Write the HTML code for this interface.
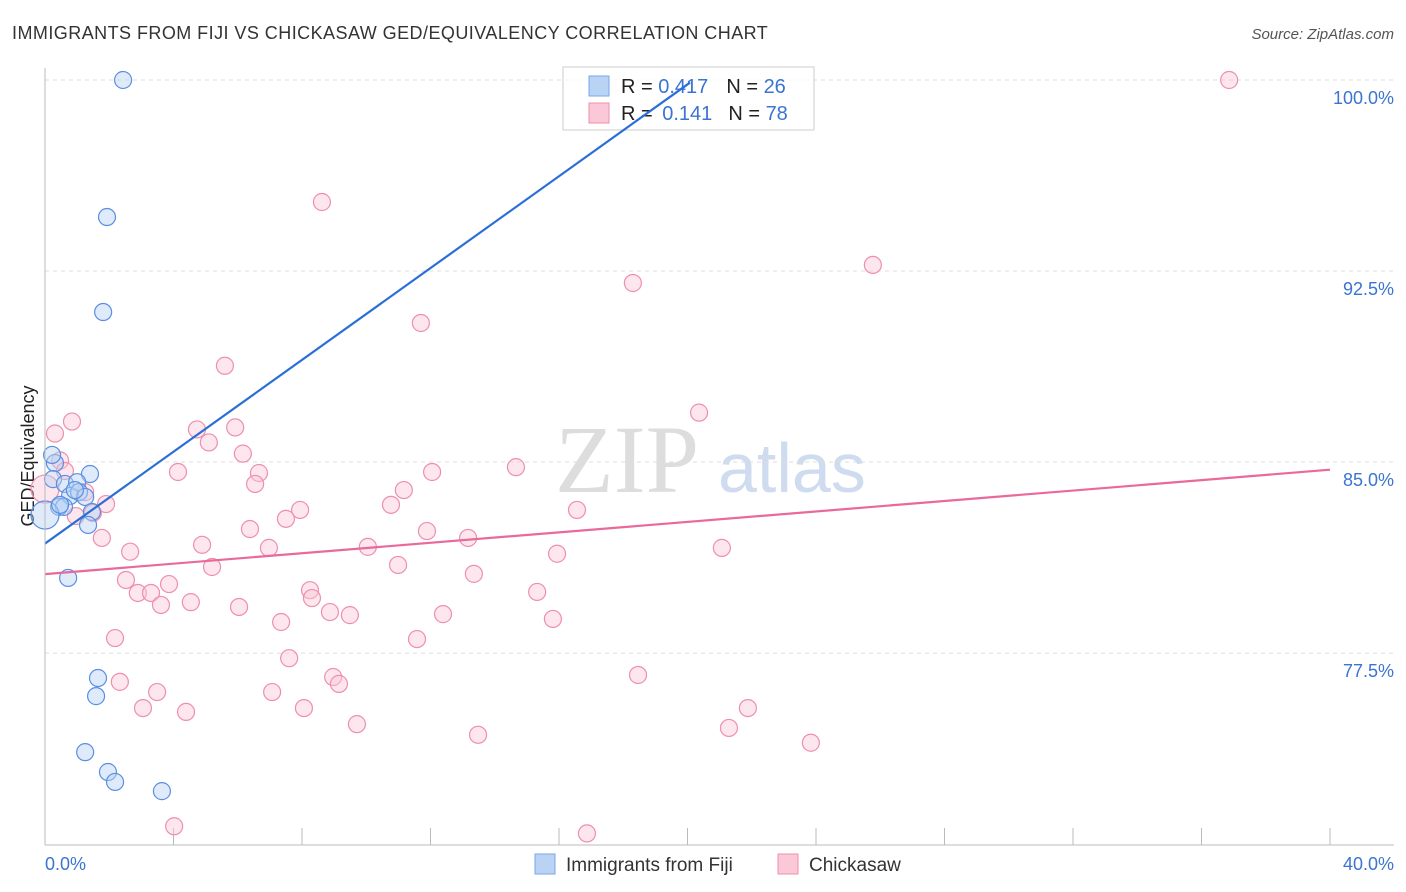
<!DOCTYPE html>
<html><head><meta charset="utf-8"><style>
body{margin:0;background:#fff;font-family:"Liberation Sans",sans-serif;}
#c{position:relative;width:1406px;height:892px;overflow:hidden}
</style></head><body>
<div id="c">
<svg id="s" width="1406" height="892" xmlns="http://www.w3.org/2000/svg">
<text x="12" y="39" font-size="18" fill="#333" letter-spacing="0.45">IMMIGRANTS FROM FIJI VS CHICKASAW GED/EQUIVALENCY CORRELATION CHART</text>
<text x="1394" y="39" font-size="15" fill="#555" font-style="italic" text-anchor="end">Source: ZipAtlas.com</text>
<text x="34" y="456" font-size="18" fill="#222" transform="rotate(-90 34 456)" text-anchor="middle">GED/Equivalency</text>
<text x="555" y="492" font-size="96" fill="#ddd" font-family="Liberation Serif,serif">ZIP</text>
<text x="718" y="492" font-size="70" fill="#cfdcf0">atlas</text>
<g id="grid"></g>
<g>
<rect x="563" y="67" width="251" height="63" fill="#fff" fill-opacity="0.75" stroke="#ccc"/>
<rect x="589" y="76" width="20" height="20" fill="#b9d3f5" stroke="#7aa6e6"/>
<rect x="589" y="103" width="20" height="20" fill="#fbc8d7" stroke="#ee8fae"/>
<text x="621" y="93" font-size="20" fill="#222">R = <tspan fill="#3b74d1">0.417</tspan><tspan dx="18">N = </tspan><tspan fill="#3b74d1">26</tspan></text>
<text x="621" y="120" font-size="20" fill="#222">R = <tspan fill="#3b74d1" dx="4">0.141</tspan><tspan dx="16">N = </tspan><tspan fill="#3b74d1">78</tspan></text>
</g>
<g id="pts"></g><g id="lines"></g>
<line x1="45" y1="68" x2="45" y2="845" stroke="#bbb"/>
<line x1="45" y1="845" x2="1394" y2="845" stroke="#bbb"/>
<text x="45" y="870" font-size="18" fill="#3b74d1">0.0%</text>
<text x="1394" y="870" font-size="18" fill="#3b74d1" text-anchor="end">40.0%</text>
<g>
<rect x="535" y="854" width="20" height="20" fill="#b9d3f5" stroke="#7aa6e6"/>
<text x="566" y="871" font-size="19" fill="#333">Immigrants from Fiji</text>
<rect x="778" y="854" width="20" height="20" fill="#fbc8d7" stroke="#ee8fae"/>
<text x="809" y="871" font-size="19" fill="#333">Chickasaw</text>
</g>
</svg></div>
<script>
const yTicks=[100,92.5,85,77.5];
const yTickLabels=["100.0%","92.5%","85.0%","77.5%"];
const xTicks=[0,4,8,12,16,20,24,28,32,36,40];
const fijiX=[2.43,1.93,1.81,0.31,1.40,0.25,0.62,1.00,0.78,1.06,1.25,0.44,0.59,1.46,1.34,0.72,1.65,1.59,1.25,1.96,2.18,3.64,0.0,0.22,0.47,0.93];
const fijiY=[100,94.62,90.89,84.96,84.53,84.33,84.14,84.21,83.67,83.82,83.63,83.24,83.24,83.04,82.53,80.45,76.52,75.81,73.61,72.83,72.44,72.08,82.92,85.28,83.32,83.90];
const chiX=[36.86,8.62,25.77,18.30,11.70,5.60,20.36,0.84,0.31,4.73,5.92,5.10,6.16,0.47,4.14,6.66,12.05,14.66,0.62,6.54,11.17,1.25,1.90,10.77,7.94,1.49,16.56,0.96,7.50,6.38,11.89,1.77,13.17,4.89,10.05,2.65,6.97,15.94,21.07,10.99,5.20,2.52,13.35,3.86,2.89,3.30,8.25,15.32,8.31,4.54,3.61,6.04,8.87,9.49,12.39,15.81,7.35,11.58,2.18,7.60,18.46,8.97,9.15,2.33,3.49,7.07,3.05,8.06,4.39,21.88,9.71,21.29,13.48,23.84,4.02,16.87,0.0];
const chiY=[100,95.21,92.74,92.03,90.46,88.78,86.94,86.59,86.12,86.28,86.36,85.77,85.33,85.06,84.61,84.57,84.61,84.80,84.65,84.14,83.90,83.82,83.35,83.32,83.12,83.00,83.12,82.88,82.77,82.37,82.29,82.02,82.02,81.75,81.67,81.48,81.63,81.40,81.63,80.96,80.88,80.37,80.61,80.21,79.86,79.86,79.97,79.90,79.66,79.50,79.39,79.31,79.11,78.99,79.03,78.84,78.72,78.05,78.09,77.30,76.64,76.56,76.29,76.37,75.97,75.97,75.34,75.34,75.19,75.34,74.71,74.56,74.29,73.98,70.70,70.42,83.94];
const fijiTrend=[0,81.8,20.08,99.9];
const chiTrend=[0,80.6,40,84.7];
const X=v=>45+v/40*1285, Y=v=>80+(100-v)*25.47;
const NS="http://www.w3.org/2000/svg";
function mk(t,a,p){const e=document.createElementNS(NS,t);for(const k in a)e.setAttribute(k,a[k]);p.appendChild(e);return e;}
const grid=document.getElementById('grid');
yTicks.forEach((t,i)=>{
 const l=mk('line',{x1:45,x2:1394,y1:Y(t),y2:Y(t),stroke:'#ddd','stroke-dasharray':'4 4'},grid);
 
 
 const tx=mk('text',{x:1394,y:Y(t)+24,'font-size':18,fill:'#3b74d1','text-anchor':'end'},grid);
 tx.textContent=yTickLabels[i];
 
 
});
xTicks.forEach(t=>{
 const l=mk('line',{x1:X(t),x2:X(t),y1:828,y2:845,stroke:'#bbb'},grid);
 
 
});
const pts=document.getElementById('pts');
function dots(xs,ys,fill,stroke,name){xs.forEach((x,i)=>{
 const big=(x===0);
 const c=mk('circle',{cx:X(x),cy:Y(ys[i]),r:big?14:8.5,fill:fill,'fill-opacity':0.45,stroke:stroke,'stroke-width':1.2},pts);
 
 
});}
dots(chiX,chiY,'#fbc8d7','#ee8fae','chickasaw-point');
dots(fijiX,fijiY,'#b9d3f5','#5b8fe0','fiji-point');
const lines=document.getElementById('lines');
const b=mk('line',{x1:X(fijiTrend[0]),y1:Y(fijiTrend[1]),x2:X(fijiTrend[2]),y2:Y(fijiTrend[3]),stroke:'#2a6fd6','stroke-width':2.2},lines);


const p=mk('line',{x1:X(chiTrend[0]),y1:Y(chiTrend[1]),x2:X(chiTrend[2]),y2:Y(chiTrend[3]),stroke:'#e8699a','stroke-width':2.2},lines);


</script>
</body></html>
